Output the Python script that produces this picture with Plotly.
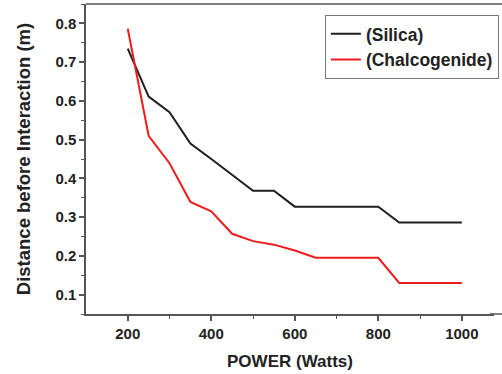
import plotly.graph_objects as go

power = [200, 250, 300, 350, 400, 450, 500, 550, 600, 650, 700, 750, 800, 850, 900, 950, 1000]
silica = [0.735, 0.611, 0.571, 0.490, 0.450, 0.410, 0.368, 0.368, 0.327, 0.327, 0.327, 0.327, 0.327, 0.286, 0.286, 0.286, 0.286]
chalco = [0.786, 0.510, 0.439, 0.339, 0.315, 0.257, 0.238, 0.229, 0.214, 0.195, 0.195, 0.195, 0.195, 0.130, 0.130, 0.130, 0.130]

FONT = "Liberation Sans, Arial, sans-serif"

fig = go.Figure()
fig.add_trace(go.Scatter(x=power, y=silica, mode="lines", name="(Silica)",
                         line=dict(color="#1e1e1e", width=2)))
fig.add_trace(go.Scatter(x=power, y=chalco, mode="lines", name="(Chalcogenide)",
                         line=dict(color="#ee1c1c", width=2)))

axis_common = dict(showgrid=False, zeroline=False, showline=True, linecolor="#555555",
                   linewidth=1.5, ticks="outside", ticklen=5, tickwidth=1.5, tickcolor="#555555",
                   tickfont=dict(family=FONT, size=15, color="#222222", weight="bold"))

fig.update_xaxes(range=[100, 1077], tickvals=[200, 400, 600, 800, 1000], mirror=False,
                 minor=dict(tickvals=[300, 500, 700, 900], ticklen=3, tickwidth=1.2, tickcolor="#555555", ticks="outside"),
                 title=dict(text="<b>POWER (Watts)</b>", font=dict(family=FONT, size=17, color="#222222"), standoff=14),
                 **axis_common)
fig.update_yaxes(range=[0.05, 0.85], tickvals=[0.1, 0.2, 0.3, 0.4, 0.5, 0.6, 0.7, 0.8], tickformat=".1f",
                 minor=dict(dtick=0.05, tick0=0.05, ticklen=3, tickwidth=1.2, tickcolor="#555555", ticks="outside"),
                 title=dict(text="<b>Distance before Interaction (m)</b>", font=dict(family=FONT, size=18.5, color="#222222"), standoff=20),
                 **axis_common)

# top frame line and bottom axis continuation, running to the right edge of the picture
fig.add_shape(type="line", xref="paper", yref="paper", x0=0, x1=1.03, y0=1, y1=1,
              line=dict(color="#555555", width=1.5))
fig.add_shape(type="line", xref="paper", yref="paper", x0=0.99, x1=1.03, y0=0, y1=0,
              line=dict(color="#555555", width=1.5))

fig.update_layout(
    width=502, height=374,
    margin=dict(l=86, r=8, t=4, b=60, autoexpand=False),
    paper_bgcolor="white", plot_bgcolor="white",
    font=dict(family=FONT, size=15, color="#222222"),
    showlegend=True,
    legend=dict(x=1.012, y=0.965, xanchor="right", yanchor="top",
                bordercolor="#777777", borderwidth=1, bgcolor="white",
                font=dict(family=FONT, size=17.5, color="#222222", weight="bold"),
                tracegroupgap=0, itemwidth=30),
)

fig.write_html("out.html")
